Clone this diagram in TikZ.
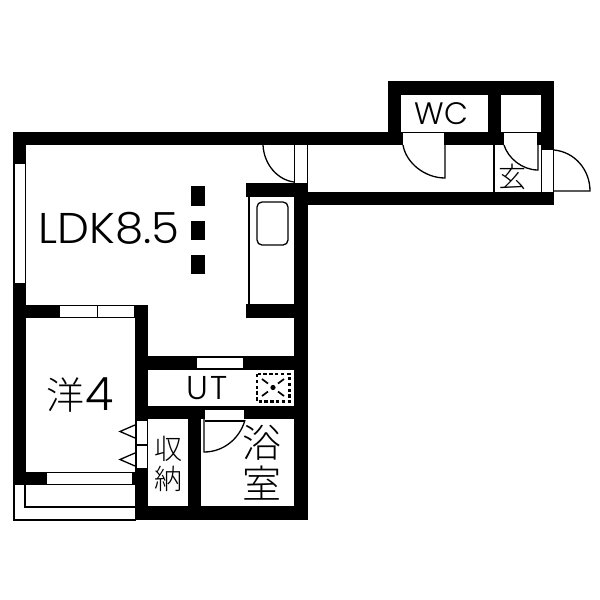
\documentclass[tikz,border=0pt]{standalone}
\usepackage{fontspec}
\usepackage{graphicx}
\setmainfont{Poppins Light}
\newfontfamily\cjk{Noto Sans CJK JP Light}
\tikzset{
  x=1pt,y=-1pt,
  wall/.style={fill=black,draw=none},
  win/.style={fill=white,draw=none},
  thin/.style={draw=black,line width=1.1pt},
  swing/.style={draw=black,line width=1.3pt},
  lbl/.style={inner sep=0pt,text=black},
  jp/.style={inner sep=0pt,text=black}
}
\begin{document}
\begin{tikzpicture}
\useasboundingbox (0,0) rectangle (600,600);
\fill[white] (0,0) rectangle (600,600);
% walls
\fill[wall] (13,132) rectangle (388,145);
\fill[wall] (13,132) rectangle (26,485);
\fill[wall] (388,81) rectangle (554,95);
\fill[wall] (388,81) rectangle (401,145);
\fill[wall] (388,132) rectangle (501,145);
\fill[wall] (488,81) rectangle (501,145);
\fill[wall] (501,132) rectangle (554,145);
\fill[wall] (541,81) rectangle (554,150);
\fill[wall] (308,192) rectangle (554,205);
\fill[wall] (246,183) rectangle (308,197);
\fill[wall] (246,304) rectangle (294,318);
\fill[wall] (294,183) rectangle (308,520);
\fill[wall] (13,305) rectangle (148,318);
\fill[wall] (135,305) rectangle (148,520);
\fill[wall] (148,356) rectangle (294,370);
\fill[wall] (148,406) rectangle (294,419);
\fill[wall] (188,406) rectangle (201,520);
\fill[wall] (135,506) rectangle (308,520);
\fill[wall] (13,472) rectangle (135,485);
% columns
\fill[wall] (191,186) rectangle (205,206);
\fill[wall] (191,221) rectangle (205,240);
\fill[wall] (191,255) rectangle (205,274);
% windows
\fill[win] (14.5,164) rectangle (25,283);
\fill[win] (60,306) rectangle (134,317);
\draw[thin] (97.5,306) -- (97.5,317);
\fill[win] (47,473) rectangle (132,484);
\fill[win] (197,358) rectangle (243,368);
\fill[win] (205,410) rectangle (244,421);
\fill[win] (403,133) rectangle (444,145);
\fill[win] (504,133) rectangle (537,145);
\fill[win] (542.5,150) rectangle (553,191);
\fill[win] (137,421) rectangle (147,468);
\draw[thin] (137,445) -- (147,445);
% LDK door opening
\fill[win] (295,145) rectangle (307,183);
\draw[thin] (294.5,145) -- (294.5,183);
\draw[thin] (307.5,145) -- (307.5,183);
% thin lines
\draw[thin] (494,145) -- (494,192);
\draw[thin] (541.5,145) -- (541.5,192);
\draw[thin] (553.5,150) -- (553.5,192);
\draw[thin] (249,197) -- (249,304);
\draw[rounded corners=5pt,line width=1.3pt] (257,202) rectangle (288,245);
% balcony
\draw[draw=black,line width=2pt] (13.5,485) -- (13.5,519.5) -- (136,519.5);
\draw[draw=black,line width=2pt] (25,485) -- (25,507) -- (136,507);
% door swings
\draw[swing] (263,145) .. controls (264,165) and (278,180) .. (294,182);
\draw[swing] (403,145) .. controls (406,163) and (425,178) .. (445,178) -- (445,145);
\draw[swing] (504,145) .. controls (508,158) and (522,170) .. (538,170) -- (538,145);
\draw[swing] (204,419) -- (204,452) .. controls (224,452) and (240,438) .. (245,420);
\draw[thin] (205,421) -- (244,421);
\draw[swing] (554,150) .. controls (575,152) and (590,170) .. (590,191) -- (554,191);
% folding door
\draw[swing] (135,425) -- (120,431.5) -- (135,438);
\draw[swing] (135,453) -- (120,459.5) -- (135,466);
% symbol
\draw[dash pattern=on 3.4pt off 2.4pt,line width=2.2pt] (257,374) rectangle (289.5,401.5);
\fill (273,387.5) circle (2.6pt);
\draw[line width=1.7pt] (262,379) -- (268,383.5) (284,379) -- (278,383.5) (262,396) -- (268,391.5) (284,396) -- (278,391.5);
% labels
\node[lbl] (ldk) at (109,228) {\scalebox{1.05}[1]{\fontsize{43}{43}\selectfont LDK8.5}};
\node[lbl] (wc) at (441.5,114) {\fontsize{31}{31}\selectfont WC};
\node[lbl] (ut) at (207,388.5) {\fontsize{33}{33}\selectfont U\kern2.5pt T};
\node[lbl] (four) at (99.5,394.5) {\fontsize{46}{46}\selectfont 4};
\node[jp] (you) at (65.5,395) {\cjk\fontsize{38}{38}\selectfont 洋};
\node[jp] (gen) at (512,177) {\cjk\fontsize{28}{28}\selectfont 玄};
\node[jp] (sh) at (168.5,449) {\cjk\fontsize{28}{28}\selectfont 収};
\node[jp] (no) at (168.5,479) {\cjk\fontsize{28}{28}\selectfont 納};
\node[jp] (yoku) at (262,442.5) {\cjk\fontsize{39}{39}\selectfont 浴};
\node[jp] (shitsu) at (262,483) {\cjk\fontsize{39}{39}\selectfont 室};
\end{tikzpicture}
\end{document}
